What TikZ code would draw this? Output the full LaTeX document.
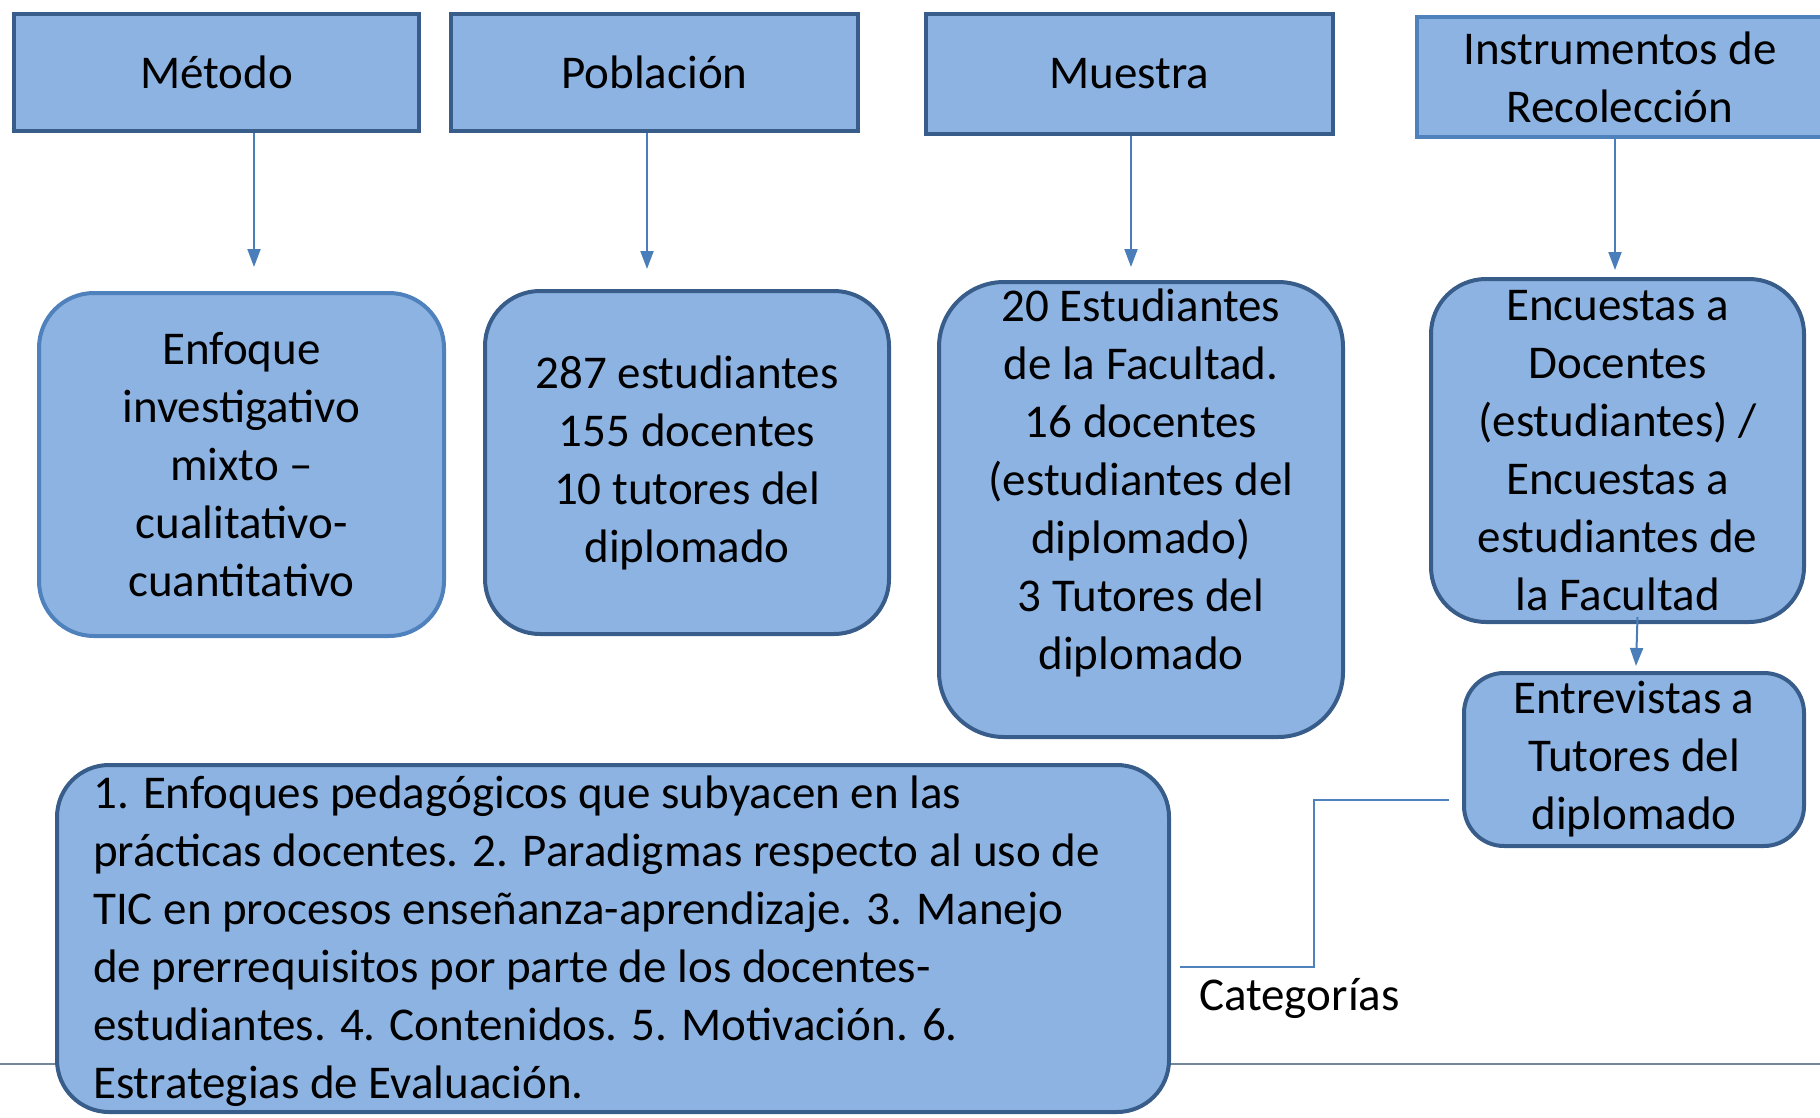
\documentclass[tikz,border=0pt]{standalone}
\usepackage{fontspec}
\setmainfont{Carlito}
\usetikzlibrary{arrows.meta,positioning}
\definecolor{boxfill}{HTML}{8DB3E2}
\definecolor{boxdark}{HTML}{385D8A}
\definecolor{boxlight}{HTML}{4F81BD}
\definecolor{linkcol}{HTML}{4A7EBB}
\definecolor{rulecol}{HTML}{72879A}
\tikzset{
  head/.style={draw=boxdark, fill=boxfill, line width=4.5pt, inner sep=0pt, align=center},
  rbox/.style={draw=boxdark, fill=boxfill, line width=4pt, rounded corners=55pt, inner sep=0pt, align=center},
  arr/.style={linkcol, line width=2pt, -{Triangle[length=18pt,width=13pt]}},
  link/.style={boxlight, line width=2pt},
}
\begin{document}
\begin{tikzpicture}[x=1pt, y=1pt, font=\fontsize{47pt}{58pt}\selectfont]
      \useasboundingbox (0,0) rectangle (1820,-1117);
      \clip (0,0) rectangle (1820,-1117);
      \coordinate (ruleL) at (0,-1064);
      \coordinate (ruleR) at (1820,-1064);
      \draw[rulecol, line width=2pt] (ruleL) -- (ruleR);
      \node[head, minimum width=405, minimum height=117] (metodo) at (216.5,-72.5) {Método};
      \node[head, minimum width=407, minimum height=117] (poblacion) at (654.5,-72.5) {Población};
      \node[head, minimum width=407, minimum height=120] (muestra) at (1129.5,-74) {Muestra};
      \node[head, draw=boxlight, minimum width=406, minimum height=120] (instrumentos) at (1620,-77)
        {Instrumentos de\\Recolección};
      \node[rbox, draw=boxlight, minimum width=405, minimum height=343] (enfoque) at (241.5,-464.5)
        {Enfoque\\investigativo\\mixto –\\cualitativo-\\cuantitativo};
      \node[rbox, minimum width=404, minimum height=343] (universo) at (687,-462.5)
        {287 estudiantes\\155 docentes\\10 tutores del\\diplomado};
      \node[rbox, rounded corners=65pt, minimum width=404, minimum height=455] (seleccion) at (1141,-509.5) {};
      \node[align=center, inner sep=0pt] (seleccionTxt) at (1141,-483)
        {20 Estudiantes\\de la Facultad.\\16 docentes\\(estudiantes del\\diplomado)\\3 Tutores del\\diplomado};
      \node[rbox, minimum width=373, minimum height=343] (encuestas) at (1617.5,-450.5)
        {Encuestas a\\Docentes\\(estudiantes) /\\Encuestas a\\estudiantes de\\la Facultad};
      \node[rbox, rounded corners=40pt, minimum width=340, minimum height=173] (entrevistas) at (1634,-759.5)
        {Entrevistas a\\Tutores del\\diplomado};
      \node[rbox, rounded corners=52pt, minimum width=1112, minimum height=347] (categorias) at (613,-938.5) {};
      \node[anchor=west, align=left, inner sep=0pt] (categoriasTxt) at (93,-941)
        {1. Enfoques pedagógicos que subyacen en las\\
         prácticas docentes. 2. Paradigmas respecto al uso de\\
         TIC en procesos enseñanza-aprendizaje. 3. Manejo\\
         de prerrequisitos por parte de los docentes-\\
         estudiantes. 4. Contenidos. 5. Motivación. 6.\\
         Estrategias de Evaluación.};
      \node[anchor=west, inner sep=0pt] (catLabel) at (1199,-998) {Categorías};
      \coordinate (a1) at (254,-267);
      \coordinate (a2) at (647,-269);
      \coordinate (a3) at (1131,-267);
      \coordinate (a4) at (1615,-270);
      \coordinate (a5) at (1636,-666);
      \coordinate (catEnd) at (1449,-800);
      \begin{scope}
        \draw[arr] (metodo.south -| a1) -- (a1);
        \draw[arr] (poblacion.south -| a2) -- (a2);
        \draw[arr] (muestra.south -| a3) -- (a3);
        \draw[arr] (instrumentos.south -| a4) -- (a4);
        \draw[arr] ([xshift=20pt,yshift=7pt]encuestas.south) -- (a5);
        \draw[link] ([xshift=9pt,yshift=-28pt]categorias.east) -- ++(134,0) |- (catEnd);
      \end{scope}
    \end{tikzpicture}
\end{document}
